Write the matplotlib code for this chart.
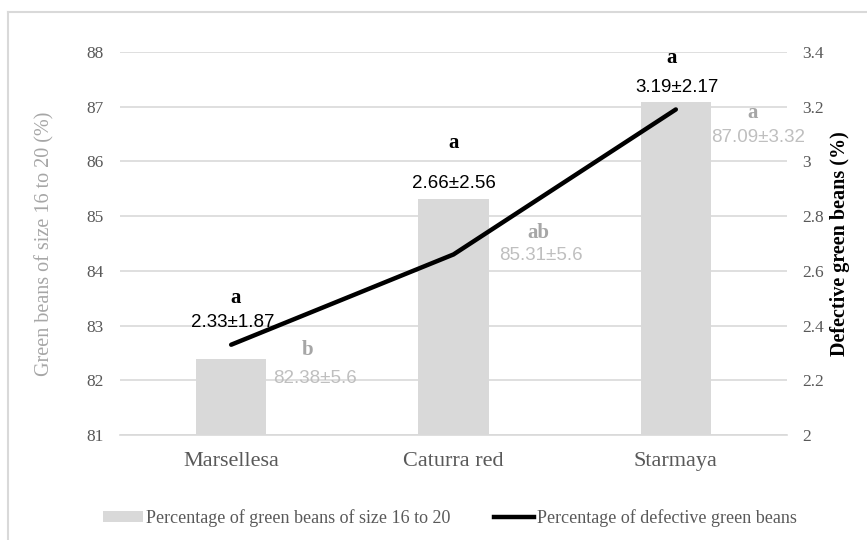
import matplotlib.pyplot as plt
from matplotlib.lines import Line2D
from matplotlib.patches import Patch
import numpy as np

# data
varieties = ['Marsellesa', 'Caturra red', 'Starmaya']
size_pct = [82.38, 85.31, 87.09]
size_sd = [5.6, 5.6, 3.32]
size_letters = ['b', 'ab', 'a']
defect_pct = [2.33, 2.66, 3.19]
defect_sd = [1.87, 2.56, 2.17]
defect_letters = ['a', 'a', 'a']

# label offsets in pixels (dx, dy) from the mark
defect_val_off = [(2, 22), (0, 71), (1, 22)]
defect_let_off = [(4, 47), (0, 111), (-4, 51)]
size_let_off = [(76, 9), (85, -34), (77, -11)]
size_val_off = [(84, -19), (87, -56), (82, -36)]

serif = 'Liberation Serif'
sans = 'Liberation Sans'
grid_c = '#D9D9D9'
tick_c = '#595959'

fig = plt.figure(figsize=(8.67, 5.4), dpi=100)
ax = fig.add_axes([120 / 867, 1 - 435 / 540, 667 / 867, 383 / 540])
ax2 = ax.twinx()

x = np.arange(len(varieties))
ax.bar(x, size_pct, width=0.315, color='#D9D9D9', zorder=2)
ax.set_ylim(81, 88)
ax.set_xlim(-0.5, 2.5)
ax.set_yticks(np.arange(81, 89, 1))
ax.yaxis.grid(True, color=grid_c, linewidth=1.2, zorder=0)
ax.set_axisbelow(True)
ax.set_xticks(x)
ax.set_xticklabels(varieties, fontfamily=serif, fontsize=16, color=tick_c)
ax.tick_params(axis='x', length=0, pad=12)
ax.tick_params(axis='y', length=0, pad=12, labelcolor=tick_c, labelsize=12.5)
for t in ax.get_yticklabels():
    t.set_fontfamily(serif)
for s in ['top', 'left', 'right']:
    ax.spines[s].set_visible(False)
ax.spines['bottom'].set_color(grid_c)
ax.spines['bottom'].set_linewidth(1.2)
ax.set_ylabel('Green beans of size 16 to 20 (%)', fontfamily=serif, fontsize=14.5,
              color='#A6A6A6')
ax.yaxis.set_label_coords(-0.0975, 0.5)

ax2.plot(x, defect_pct, color='black', linewidth=3.2, solid_capstyle='round', zorder=3)
ax2.set_ylim(2, 3.4)
ax2.set_yticks([2, 2.2, 2.4, 2.6, 2.8, 3, 3.2, 3.4])
ax2.set_yticklabels(['2', '2.2', '2.4', '2.6', '2.8', '3', '3.2', '3.4'])
ax2.tick_params(axis='y', length=0, pad=11, labelcolor=tick_c, labelsize=12.5)
for t in ax2.get_yticklabels():
    t.set_fontfamily(serif)
for s in ax2.spines.values():
    s.set_visible(False)
ax2.set_ylabel('Defective green beans (%)', fontfamily=serif, fontsize=14.5,
               fontweight='bold', color='black')
ax2.yaxis.set_label_coords(1.0645, 0.5)

# labels for the line and the bars
for i in range(len(varieties)):
    ax2.annotate(f'{defect_pct[i]:.2f}\u00b1{defect_sd[i]:.2f}', (x[i], defect_pct[i]),
                 xytext=defect_val_off[i], textcoords='offset pixels',
                 ha='center', va='center', fontfamily=sans, fontsize=13.5, color='black')
    ax2.annotate(defect_letters[i], (x[i], defect_pct[i]),
                 xytext=defect_let_off[i], textcoords='offset pixels',
                 ha='center', va='center', fontfamily=serif, fontsize=15,
                 fontweight='bold', color='black')
    ax.annotate(f'{size_pct[i]:.2f}\u00b1{size_sd[i]:g}', (x[i], size_pct[i]),
                xytext=size_val_off[i], textcoords='offset pixels',
                ha='center', va='center', fontfamily=sans, fontsize=13.5, color='#BFBFBF')
    ax.annotate(size_letters[i], (x[i], size_pct[i]),
                xytext=size_let_off[i], textcoords='offset pixels',
                ha='center', va='center', fontfamily=serif, fontsize=15,
                fontweight='bold', color='#A6A6A6')

handles = [Patch(facecolor='#D9D9D9', edgecolor='none'),
           Line2D([0], [0], color='black', linewidth=3.2)]
leg = fig.legend(handles, ['Percentage of green beans of size 16 to 20',
                           'Percentage of defective green beans'],
                 loc='center', bbox_to_anchor=(450 / 867, 1 - 518 / 540), ncol=2,
                 frameon=False, handlelength=2.2, handleheight=0.5, handletextpad=0.2,
                 columnspacing=2.4, prop={'family': serif, 'size': 13})
for t in leg.get_texts():
    t.set_color(tick_c)

# outer chart frame (left and top edges visible)
fig.add_artist(Line2D([8 / 867, 8 / 867], [0, 1 - 12 / 540], color=grid_c, linewidth=1.5))
fig.add_artist(Line2D([8 / 867, 1], [1 - 12 / 540, 1 - 12 / 540], color=grid_c, linewidth=1.5))

fig.savefig('out.png', dpi=100)
